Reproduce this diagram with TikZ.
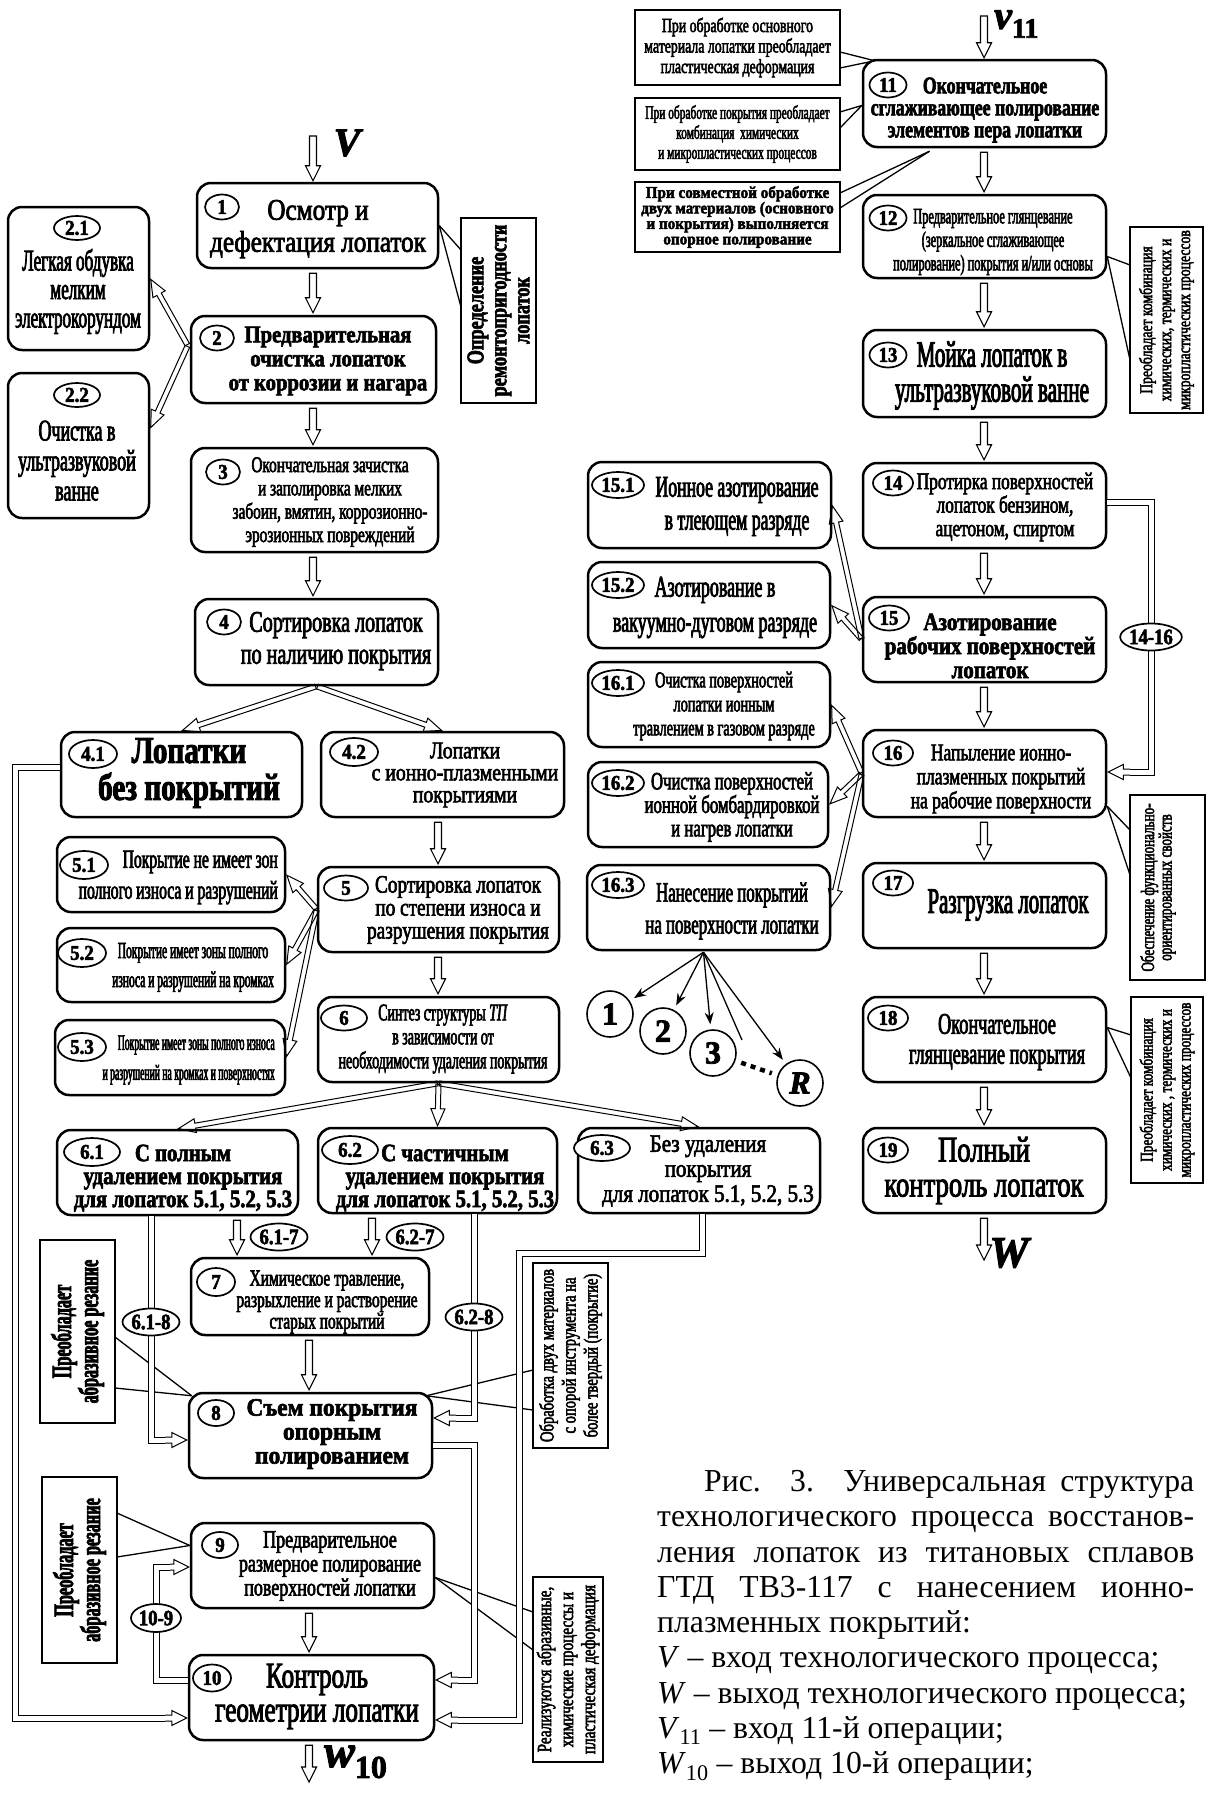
\documentclass[tikz,border=0pt]{standalone}
\usepackage{fontspec}
\setmainfont{Liberation Serif}
\usetikzlibrary{calc,shapes.geometric,arrows.meta}
\newcommand\tff[3]{\fontsize{#1}{#2}\selectfont\addfontfeature{FakeStretch=#3,FakeBold=2.5}}
\newcommand\capf[3]{\fontsize{#1}{#2}\selectfont\addfontfeature{FakeStretch=#3}}
\newcommand\bxn[5]{\node[box, minimum width={(#4-#2)*1pt}, minimum height={(#5-#3)*1pt}] (#1) at ({(#2+#4)/2},{(#3+#5)/2}) {};}
\newcommand\bdg[5]{\node[bd, minimum width=#4pt, minimum height=#5pt] (#1) at (#2) {#3};}
\tikzset{
  box/.style={draw, line width=2.5pt, rounded corners=14pt, inner sep=0pt},
  ann/.style={draw, line width=1.4pt, inner sep=0pt, align=center},
  bd/.style={ellipse, draw, line width=1.7pt, inner sep=0pt, fill=white, font={\bfseries\tff{21}{21}{0.9}}},
  lb/.style={ellipse, draw, line width=1.7pt, inner sep=0pt, fill=white, minimum width=57pt, minimum height=27pt, font={\bfseries\tff{22}{22}{0.85}}},
  txt/.style={inner sep=0pt, align=center},
  co/.style={line width=1.3pt},
  dl/.style={double, double distance=5pt, line width=1pt},
  cir/.style={circle, draw, line width=1.6pt, minimum size=46pt, inner sep=0pt, fill=white, font={\bfseries\tff{32}{32}{1}}},
  sar/.style={line width=1.3pt, -{Stealth[length=12pt,width=9pt]}, shorten >=5pt},
  barr/.style n args={6}{to path={
    let \p1=(\tikztostart), \p2=(\tikztotarget),
        \n1={veclen(\x2-\x1,\y2-\y1)},
        \n2={(\x2-\x1)/\n1}, \n3={(\y2-\y1)/\n1}
    in
    ({\x1+(#1)*\n2-(#3)*\n3},{\y1+(#1)*\n3+(#3)*\n2})
    -- ({\x1+(\n1-#2-#5)*\n2-(#3)*\n3},{\y1+(\n1-#2-#5)*\n3+(#3)*\n2})
    -- ({\x1+(\n1-#2-#5)*\n2-(#4)*\n3},{\y1+(\n1-#2-#5)*\n3+(#4)*\n2})
    -- ({\x1+(\n1-#2)*\n2},{\y1+(\n1-#2)*\n3})
    -- ({\x1+(\n1-#2-#5)*\n2+(#4)*\n3},{\y1+(\n1-#2-#5)*\n3-(#4)*\n2})
    -- ({\x1+(\n1-#2-#5)*\n2+(#3)*\n3},{\y1+(\n1-#2-#5)*\n3-(#3)*\n2})
    -- ({\x1+(#1)*\n2+(#3)*\n3},{\y1+(#1)*\n3-(#3)*\n2}) #6
  }},
  blk/.style={line width=1.1pt, barr={4}{2}{3.5}{7.5}{15}{-- cycle}},
  vblk/.style={line width=1.1pt, barr={0}{1}{3.5}{7.5}{15}{-- cycle}},
  dar/.style={line width=1pt, barr={1}{1}{2.5}{7}{17}{-- cycle}},
  hd/.style={line width=1pt, barr={0}{1}{3}{7.5}{15}{}},
}
\begin{document}
\begin{tikzpicture}[x=1pt,y=-1pt]
\useasboundingbox (0,0) rectangle (1206,1796);
\fill[white] (0,0) rectangle (1206,1796);

% ---------- left column boxes
\bxn{b1}{197}{183}{438}{268}
\bxn{b2}{191}{316}{436}{403}
\bxn{b3}{191}{448}{438}{552}
\bxn{b4}{195}{599}{438}{685}
\bxn{b21}{8}{207}{149}{350}
\bxn{b22}{8}{373}{149}{518}
\bxn{b41}{61}{732}{302}{817}
\bxn{b42}{321}{732}{564}{817}
\bxn{b51}{57}{837}{285}{912}
\bxn{b52}{57}{928}{285}{1002}
\bxn{b53}{55}{1020}{285}{1095}
\bxn{b5}{318}{867}{559}{952}
\bxn{b6}{318}{997}{559}{1082}
\bxn{b61}{57}{1130}{298}{1215}
\bxn{b62}{318}{1128}{557}{1213}
\bxn{b63}{578}{1128}{820}{1213}
\bxn{b7}{191}{1258}{429}{1335}
\bxn{b8}{189}{1393}{432}{1478}
\bxn{b9}{191}{1523}{434}{1608}
\bxn{b10}{189}{1655}{434}{1740}
% ---------- right column boxes
\bxn{b11}{863}{60}{1106}{147}
\bxn{b12}{863}{195}{1106}{278}
\bxn{b13}{863}{330}{1106}{417}
\bxn{b14}{863}{463}{1106}{548}
\bxn{b15}{863}{597}{1106}{682}
\bxn{b16}{863}{730}{1106}{817}
\bxn{b17}{863}{863}{1106}{948}
\bxn{b18}{863}{997}{1106}{1082}
\bxn{b19}{863}{1128}{1106}{1213}
\bxn{b151}{588}{462}{831}{548}
\bxn{b152}{588}{562}{830}{648}
\bxn{b161}{588}{662}{830}{747}
\bxn{b162}{588}{762}{828}{847}
\bxn{b163}{587}{865}{830}{950}

% ---------- texts
\node[txt, font={\tff{30}{32}{0.84}}] (t1) at (318,229) {Осмотр и\\дефектация лопаток};
\node[txt, font={\bfseries\tff{24}{24}{0.86}}] (t2) at (328,361) {Предварительная\\очистка лопаток\\от коррозии и нагара};
\node[txt, font={\tff{22.5}{23.3}{0.68}}] (t3) at (330,502) {Окончательная зачистка\\и заполировка мелких\\забоин, вмятин, коррозионно-\\эрозионных повреждений};
\node[txt, font={\tff{30}{32}{0.67}}] (t4) at (336,641) {Сортировка лопаток\\по наличию покрытия};
\node[txt, font={\tff{30}{28.5}{0.57}}] (t21) at (78,291.5) {Легкая обдувка\\мелким\\электрокорундом};
\node[txt, font={\tff{30}{30}{0.6}}] (t22) at (77,460.7) {Очистка в\\ультразвуковой\\ванне};
\node[txt, font={\bfseries\tff{38}{37}{0.77}}] (t41) at (189,773) {Лопатки\\без покрытий};
\node[txt, font={\tff{24}{22}{0.82}}] (t42) at (465,775) {Лопатки\\с ионно-плазменными\\покрытиями};
\node[txt, font={\tff{25}{23}{0.77}}] (t5) at (458,910) {Сортировка лопаток\\по степени износа и\\разрушения покрытия};
\node[txt, align=right, anchor=east, font={\tff{26}{31}{0.6}}] (t51) at (278,877.5) {Покрытие не имеет зон\\полного износа и разрушений};
\node[txt, font={\tff{23}{29}{0.5}}] (t52) at (193,967.5) {Покрытие имеет зоны полного\\износа и разрушений на кромках};
\node[txt, align=right, anchor=east, font={\tff{22}{30}{0.44}}] (t53) at (275,1060) {Покрытие имеет зоны полного износа\\и разрушений на кромках и поверхностях};
\node[txt, font={\tff{24}{24}{0.58}}] (t6) at (443,1039) {Синтез структуры \textit{ТП}\\в зависимости от\\необходимости удаления покрытия};
\node[txt, font={\bfseries\tff{25}{23}{0.83}}] (t61) at (183,1178) {С полным\\удалением покрытия\\для лопаток 5.1, 5.2, 5.3};
\node[txt, font={\bfseries\tff{25}{23}{0.83}}] (t62) at (445,1178) {С частичным\\удалением покрытия\\для лопаток 5.1, 5.2, 5.3};
\node[txt, font={\tff{25}{25}{0.84}}] (t63) at (708,1171) {Без удаления\\покрытия\\для лопаток 5.1, 5.2, 5.3};
\node[txt, font={\tff{23}{21.5}{0.67}}] (t7) at (327,1302) {Химическое травление,\\разрыхление и растворение\\старых покрытий};
\node[txt, font={\bfseries\tff{25}{24}{0.94}}] (t8) at (332,1434) {Съем покрытия\\опорным\\полированием};
\node[txt, font={\tff{25}{24}{0.72}}] (t9) at (330,1566) {Предварительное\\размерное полирование\\поверхностей лопатки};
\node[txt, font={\tff{36}{34}{0.7}}] (t10) at (317,1696.5) {Контроль\\геометрии лопатки};

\node[txt, font={\bfseries\tff{24}{22}{0.74}}] (t11) at (985,110) {Окончательное\\сглаживающее полирование\\элементов пера лопатки};
\node[txt, font={\tff{22}{23.5}{0.56}}] (t12) at (993,242) {Предварительное глянцевание\\(зеркальное сглаживающее\\полирование) покрытия и/или основы};
\node[txt, font={\tff{37}{35}{0.57}}] (t13) at (992,375.5) {Мойка лопаток в\\ультразвуковой ванне};
\node[txt, font={\tff{24}{23.5}{0.72}}] (t14) at (1005,507) {Протирка поверхностей\\лопаток бензином,\\ацетоном, спиртом};
\node[txt, font={\tff{30}{33}{0.59}}] (t151) at (737,506.5) {Ионное азотирование\\в тлеющем разряде};
\node[txt, font={\tff{30}{35}{0.6}}] (t152) at (715,607.5) {Азотирование в\\вакуумно-дуговом разряде};
\node[txt, font={\bfseries\tff{25}{24}{0.84}}] (t15) at (990,646) {Азотирование\\рабочих поверхностей\\лопаток};
\node[txt, font={\tff{23}{24}{0.62}}] (t161) at (724,706) {Очистка поверхностей\\лопатки ионным\\травлением в газовом разряде};
\node[txt, font={\tff{25}{23.5}{0.67}}] (t162) at (732,807) {Очистка поверхностей\\ионной бомбардировкой\\и нагрев лопатки};
\node[txt, font={\tff{24}{24}{0.73}}] (t16) at (1001,779) {Напыление ионно-\\плазменных покрытий\\на рабочие поверхности};
\node[txt, font={\tff{28}{32}{0.6}}] (t163) at (732,911) {Нанесение покрытий\\на поверхности лопатки};
\node[txt, font={\tff{36}{36}{0.58}}] (t17) at (1008,905) {Разгрузка лопаток};
\node[txt, font={\tff{30}{30}{0.61}}] (t18) at (997,1042) {Окончательное\\глянцевание покрытия};
\node[txt, font={\tff{36}{35}{0.74}}] (t19) at (984,1170.5) {Полный\\контроль лопаток};

% ---------- badges
\bdg{n1}{222,207}{1}{34}{25}
\bdg{n2}{217,338}{2}{34}{25}
\bdg{n3}{223,472}{3}{34}{25}
\bdg{n4}{224,622}{4}{34}{25}
\bdg{n21}{77,228}{2.1}{46}{24}
\bdg{n22}{77,395}{2.2}{46}{24}
\bdg{n41}{93,754}{4.1}{48}{28}
\bdg{n42}{354,752}{4.2}{48}{28}
\bdg{n5}{346,888}{5}{44}{25}
\bdg{n51}{84,865}{5.1}{48}{28}
\bdg{n52}{82,953}{5.2}{48}{28}
\bdg{n53}{82,1047}{5.3}{48}{28}
\bdg{n6}{344,1018}{6}{46}{25}
\bdg{n61}{92,1152}{6.1}{56}{28}
\bdg{n62}{350,1150}{6.2}{56}{28}
\bdg{n63}{602,1148}{6.3}{56}{26}
\bdg{n7}{216,1282}{7}{38}{28}
\bdg{n8}{216,1413}{8}{36}{26}
\bdg{n9}{220,1545}{9}{36}{26}
\bdg{n10}{212,1678}{10}{38}{27}
\bdg{n11}{888,85}{11}{37}{25}
\bdg{n12}{888,218}{12}{37}{25}
\bdg{n13}{888,355}{13}{37}{25}
\bdg{n14}{893,483}{14}{40}{25}
\bdg{n15}{889,618}{15}{40}{25}
\bdg{n16}{893,753}{16}{40}{25}
\bdg{n17}{893,883}{17}{40}{25}
\bdg{n18}{888,1018}{18}{40}{25}
\bdg{n19}{888,1150}{19}{40}{25}
\bdg{n151}{618,485}{15.1}{52}{26}
\bdg{n152}{618,585}{15.2}{52}{26}
\bdg{n161}{618,683}{16.1}{52}{26}
\bdg{n162}{618,783}{16.2}{52}{26}
\bdg{n163}{618,885}{16.3}{52}{26}

% ---------- annotations
\node[ann, rotate=90, minimum width=185pt, minimum height=75pt, font={\bfseries\tff{24}{23}{0.76}}] (a1) at (498.5,310.5) {Определение\\ремонтопригодности\\лопаток};
\node[ann, minimum width=205pt, minimum height=75pt, font={\tff{20}{20.5}{0.69}}] (aA) at (737.5,47.5) {При обработке основного\\материала лопатки преобладает\\пластическая деформация};
\node[ann, minimum width=205pt, minimum height=72pt, font={\tff{19}{20}{0.6}}] (aB) at (737.5,134) {При обработке покрытия преобладает\\комбинация\ \ химических\\и микропластических процессов};
\node[ann, minimum width=205pt, minimum height=70pt, font={\bfseries\tff{16.5}{15.5}{0.92}}] (aC) at (737.5,217) {При совместной обработке\\двух материалов (основного\\и покрытия) выполняется\\опорное полирование};
\node[ann, rotate=90, minimum width=186pt, minimum height=73pt, font={\tff{18}{19}{0.76}}] (aD) at (1166.5,320) {Преобладает комбинация\\химических, термических и\\микропластических процессов};
\node[ann, minimum width=75pt, minimum height=185pt] (aE) at (1167.5,887.5) {};
\node[txt, rotate=90, font={\tff{19}{17.5}{0.69}}] (aEt) at (1158,887.5) {Обеспечение функционально-\\ориентированных свойств};
\node[ann, rotate=90, minimum width=186pt, minimum height=72pt, font={\tff{18}{19}{0.74}}] (aF) at (1167,1090) {Преобладает комбинация\\химических , термических и\\микропластических процессов};
\node[ann, rotate=90, minimum width=183pt, minimum height=75pt, font={\bfseries\tff{28}{25}{0.58}}] (aG) at (77.5,1331.5) {Преобладает\\абразивное резание};
\node[ann, rotate=90, minimum width=186pt, minimum height=75pt, font={\bfseries\tff{28}{25}{0.58}}] (aH) at (79.5,1570) {Преобладает\\абразивное резание};
\node[ann, rotate=90, minimum width=185pt, minimum height=75pt, font={\tff{20}{22}{0.73}}] (aI) at (570.5,1355.5) {Обработка двух материалов\\с опорой инструмента на\\более твердый (покрытие)};
\node[ann, rotate=90, minimum width=185pt, minimum height=70pt, font={\tff{20}{22}{0.76}}] (aJ) at (568,1669.5) {Реализуются абразивные,\\химические процессы и\\пластическая деформация};

% ---------- callouts
\coordinate (k1a) at (461,250); \coordinate (k1b) at (461,307);
\draw[co] (b1.east) -- (k1a); \draw[co] (b1.east) -- (k1b);
\coordinate (oA) at ($(b11.north west)+(13,2)$);
\coordinate (kAa) at (840,52); \coordinate (kAb) at (840,68);
\draw[co] (oA) -- (kAa); \draw[co] (oA) -- (kAb);
\coordinate (oB) at ($(b11.west)+(0,2)$);
\coordinate (kBa) at (840,112); \coordinate (kBb) at (840,128);
\draw[co] (oB) -- (kBa); \draw[co] (oB) -- (kBb);
\coordinate (oC) at ($(b11.south)+(-55,3)$);
\coordinate (kCa) at (840,193); \coordinate (kCb) at (840,208);
\draw[co] (oC) -- (kCa); \draw[co] (oC) -- (kCb);
\coordinate (oD) at ($(b12.east)+(0,20)$);
\coordinate (kDa) at (1130,265); \coordinate (kDb) at (1130,360);
\draw[co] (oD) -- (kDa); \draw[co] (oD) -- (kDb);
\coordinate (oE) at ($(b16.south east)+(0,-12)$);
\coordinate (kEa) at (1130,830); \coordinate (kEb) at (1130,875);
\draw[co] (oE) -- (kEa); \draw[co] (oE) -- (kEb);
\coordinate (oF) at ($(b18.east)+(0,-12)$);
\coordinate (kFa) at (1131,1035); \coordinate (kFb) at (1131,1078);
\draw[co] (oF) -- (kFa); \draw[co] (oF) -- (kFb);
\coordinate (oG) at ($(b8.north west)+(4,4)$);
\coordinate (kGa) at (115,1337); \coordinate (kGb) at (115,1388);
\draw[co] (oG) -- (kGa); \draw[co] (oG) -- (kGb);
\coordinate (oH) at ($(b9.west)+(0,-20)$);
\coordinate (kHa) at (117,1513); \coordinate (kHb) at (117,1557);
\draw[co] (oH) -- (kHa); \draw[co] (oH) -- (kHb);
\coordinate (oI) at ($(b8.north east)+(-7,4)$);
\coordinate (kIa) at (533,1370); \coordinate (kIb) at (533,1410);
\draw[co] (oI) -- (kIa); \draw[co] (oI) -- (kIb);
\coordinate (oJ) at ($(b9.east)+(0,12)$);
\coordinate (kJa) at (533,1612); \coordinate (kJb) at (533,1650);
\draw[co] (oJ) -- (kJa); \draw[co] (oJ) -- (kJb);

% ---------- vertical block arrows
\coordinate (gL) at (313,0);
\coordinate (g5) at (438,0);
\coordinate (g617) at (237,0);
\coordinate (g627) at (372,0);
\coordinate (g78) at (309,0);
\coordinate (gR) at (984,0);
\coordinate (vin) at (313,136);
\coordinate (w10e) at (309,1784);
\coordinate (v11s) at (984,16);
\coordinate (We) at (984,1262);
\draw[vblk] (vin) to (b1.north -| vin);
\draw[blk] (b1.south -| gL) to (b2.north -| gL);
\draw[blk] (b2.south -| gL) to (b3.north -| gL);
\draw[blk] (b3.south -| gL) to (b4.north -| gL);
\draw[blk] (b42.south -| g5) to (b5.north -| g5);
\draw[blk] (b5.south -| g5) to (b6.north -| g5);
\draw[blk] (b61.south -| g617) to (b7.north -| g617);
\draw[blk] (b62.south -| g627) to (b7.north -| g627);
\draw[blk] (b7.south -| g78) to (b8.north -| g78);
\draw[blk] (b9.south -| g78) to (b10.north -| g78);
\draw[blk] (b10.south -| g78) to (w10e);
\draw[vblk] (v11s) to (b11.north -| v11s);
\draw[blk] (b11.south -| gR) to (b12.north -| gR);
\draw[blk] (b12.south -| gR) to (b13.north -| gR);
\draw[blk] (b13.south -| gR) to (b14.north -| gR);
\draw[blk] (b14.south -| gR) to (b15.north -| gR);
\draw[blk] (b15.south -| gR) to (b16.north -| gR);
\draw[blk] (b16.south -| gR) to (b17.north -| gR);
\draw[blk] (b17.south -| gR) to (b18.north -| gR);
\draw[blk] (b18.south -| gR) to (b19.north -| gR);
\draw[blk] (b19.south -| gR) to (We);

% ---------- diagonal double arrows
\coordinate (o2) at ($(b2.west)+(-2,-14)$);
\draw[dar] (o2) to (b21.east);
\draw[dar] (o2) to ($(b22.east)+(0,-17)$);
\draw[dar] (b4.south) to (b41.north);
\draw[dar] (b4.south) to (b42.north);
\draw[dar] (b5.west) to (b51.east);
\draw[dar] (b5.west) to (b52.east);
\draw[dar] (b5.west) to (b53.east);
\draw[dar] (b6.south) to (b61.north);
\draw[dar] (b6.south) to (b62.north);
\draw[dar] (b6.south) to (b63.north);
\draw[dar] (b15.west) to (b151.east);
\draw[dar] (b15.west) to (b152.east);
\draw[dar] (b16.west) to (b161.east);
\draw[dar] (b16.west) to (b162.east);
\draw[dar] (b16.west) to (b163.east);

% ---------- routed double lines
\coordinate (r1c) at (15,1718); \coordinate (r1e) at (165,1718);
\draw[dl] ($(b41.west)+(0,-7)$) -| (r1c) -- (r1e);
\draw[hd] (r1e) to (b10.west |- r1e);
\coordinate (r2c) at (151,1440); \coordinate (r2e) at (165,1440);
\draw[dl] (b61.south -| r2c) -- (r2c) -- (r2e);
\draw[hd] (r2e) to (b8.west |- r2e);
\coordinate (r3c) at (474,1418); \coordinate (r3e) at (456,1418);
\draw[dl] (b62.south -| r3c) -- (r3c) -- (r3e);
\draw[hd] (r3e) to (b8.east |- r3e);
\coordinate (r4a) at (474,1445); \coordinate (r4c) at (474,1680); \coordinate (r4e) at (458,1680);
\draw[dl] (b8.east |- r4a) -- (r4a) -- (r4c) -- (r4e);
\draw[hd] (r4e) to (b10.east |- r4e);
\coordinate (r5a) at (702,1253); \coordinate (r5b) at (519,1253); \coordinate (r5c) at (519,1720); \coordinate (r5e) at (458,1720);
\draw[dl] (b63.south -| r5a) -- (r5a) -- (r5b) -- (r5c) -- (r5e);
\draw[hd] (r5e) to (b10.east |- r5e);
\coordinate (r6a) at (156,1680); \coordinate (r6b) at (156,1567); \coordinate (r6e) at (170,1567);
\draw[dl] (b10.west |- r6a) -- (r6a) -- (r6b) -- (r6e);
\draw[hd] (r6e) to (b9.west |- r6e);
\coordinate (r7a) at (1151,502); \coordinate (r7c) at (1151,772); \coordinate (r7e) at (1130,772);
\draw[dl] (b14.east |- r7a) -- (r7a) -- (r7c) -- (r7e);
\draw[hd] (r7e) to (b16.east |- r7e);

% ---------- line labels
\node[lb] (l617) at (279,1237) {6.1-7};
\node[lb] (l627) at (415,1237) {6.2-7};
\node[lb] (l618) at (151,1322) {6.1-8};
\node[lb] (l628) at (474,1317) {6.2-8};
\node[lb, minimum width=50pt, minimum height=28pt] (l109) at (156,1618) {10-9};
\node[lb, minimum width=60pt] (l1416) at (1151,637) {14-16};

% ---------- coating variants
\node[cir] (cc1) at (610,1014) {1};
\node[cir] (cc2) at (663,1031) {2};
\node[cir] (cc3) at (713,1053) {3};
\node[cir] (ccR) at (800,1083) {\itshape R};
\coordinate (hub) at ($(b163.south)+(-5,1)$);
\coordinate (cdl) at (742,1040);
\draw[sar] (hub) -- (cc1);
\draw[sar] (hub) -- (cc2);
\draw[sar] (hub) -- (cc3);
\draw[line width=1.3pt] (hub) -- (cdl);
\draw[sar] (hub) -- (ccR);
\draw[line width=4.5pt, dash pattern=on 5pt off 5pt, shorten <=6pt, shorten >=6pt] (cc3) -- (ccR);

% ---------- inputs / outputs labels
\node[inner sep=0pt, font={\bfseries\itshape\tff{40}{40}{1}}] (lV) at (347,143) {V};
\node[inner sep=0pt, font={\bfseries\itshape\tff{44}{44}{1}}] (lW) at (1009,1253) {W};
\node[inner sep=0pt, anchor=west] (lv11) at (994,24) {{\bfseries\itshape\tff{40}{40}{1}v}\raisebox{-9pt}{\bfseries\tff{28}{28}{1}11}};
\node[inner sep=0pt, anchor=west] (lw10) at (324,1762) {{\bfseries\itshape\tff{46}{46}{1}w}\raisebox{-11pt}{\bfseries\tff{32}{32}{1}10}};

% ---------- caption
\node[anchor=north west, inner sep=0pt, align=left, font={\capf{32}{35.3}{0.99}}] (cap) at (657,1470) {%
\makebox[537pt][s]{\hspace*{47pt}Рис. 3. Универсальная структура}\\
\makebox[537pt][s]{технологического процесса восстанов-}\\
\makebox[537pt][s]{ления лопаток из титановых сплавов}\\
\makebox[537pt][s]{ГТД ТВ3-117 с нанесением ионно-}\\
плазменных покрытий:\\
\textit{V} – вход технологического процесса;\\
\textit{W} – выход технологического процесса;\\
\textit{V}\textsubscript{11} – вход 11-й операции;\\
\textit{W}\textsubscript{10} – выход 10-й операции;};
\end{tikzpicture}
\end{document}
